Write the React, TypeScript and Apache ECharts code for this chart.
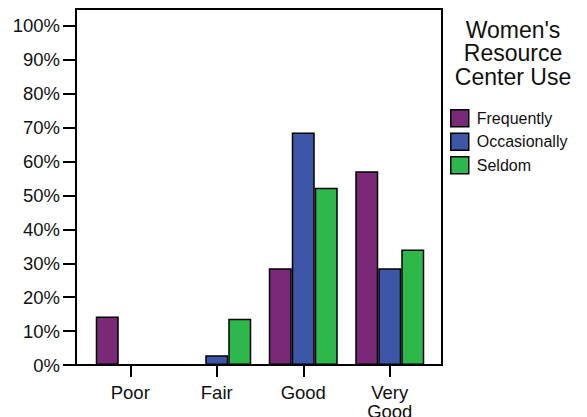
import React, { useEffect, useRef } from "react";
import * as echarts from "echarts";

const categories = ["Poor", "Fair", "Good", "Very\nGood"];
const seriesNames = ["Frequently", "Occasionally", "Seldom"];
const frequently = [14.29, 0, 28.57, 57.14];
const occasionally = [0, 2.86, 68.57, 28.57];
const seldom = [0, 13.64, 52.27, 34.09];
const yTicks = [0, 10, 20, 30, 40, 50, 60, 70, 80, 90, 100];
const colors = ["#7a2878", "#3d56a8", "#2eb84b"];
const legendTitle = "Women's\nResource\nCenter Use";

const FONT = "'Liberation Sans', Arial, Helvetica, sans-serif";

export default function App() {
  const ref = useRef<HTMLDivElement>(null);
  useEffect(() => {
    if (!ref.current) return;
    const chart = echarts.init(ref.current, undefined, { renderer: "svg" });
    const data = [frequently, occasionally, seldom];
    chart.setOption({
      animation: false,
      backgroundColor: "#ffffff",
      textStyle: { fontFamily: FONT },
      grid: {
        left: 87,
        right: 154,
        top: 9,
        bottom: 52,
        containLabel: false,
        outerBoundsMode: "none",
      },
      xAxis: {
        type: "category",
        data: categories,
        axisLine: { show: false },
        axisTick: {
          show: true,
          alignWithLabel: true,
          length: 12,
          lineStyle: { color: "#000", width: 2 },
        },
        axisLabel: {
          color: "#111",
          fontSize: 18.5,
          lineHeight: 19,
          margin: 18,
          fontFamily: FONT,
        },
      },
      yAxis: {
        type: "value",
        min: 0,
        max: 105,
        interval: 10,
        offset: 11,
        splitLine: { show: false },
        axisLine: { show: true, lineStyle: { color: "#000", width: 2 } },
        axisTick: {
          show: true,
          length: 13,
          customValues: yTicks,
          lineStyle: { color: "#000", width: 2 },
        },
        axisLabel: {
          color: "#111",
          fontSize: 18.5,
          margin: 16,
          customValues: yTicks,
          formatter: "{value}%",
          fontFamily: FONT,
        },
      },
      legend: {
        orient: "vertical",
        left: 445,
        top: 104,
        itemWidth: 18,
        itemHeight: 17,
        itemGap: 5,
        icon: "rect",
        data: seriesNames,
        itemStyle: { borderColor: "#000", borderWidth: 1.5 },
        textStyle: {
          fontSize: 16,
          lineHeight: 17,
          color: "#111",
          fontFamily: FONT,
          padding: [0, 0, 0, 3],
        },
      },
      graphic: [
        {
          type: "rect",
          z: 100,
          shape: { x: 76, y: 9, width: 366, height: 356 },
          style: { fill: "none", stroke: "#000", lineWidth: 2 },
        },
        {
          type: "text",
          x: 513,
          y: 18,
          style: {
            text: legendTitle,
            textAlign: "center",
            textVerticalAlign: "top",
            fontSize: 23,
            lineHeight: 23.5,
            fontFamily: FONT,
            fill: "#111",
          },
        },
      ],
      series: seriesNames.map((name, i) => ({
        name,
        type: "bar",
        data: data[i],
        barWidth: 23,
        barGap: "0%",
        itemStyle: { color: colors[i], borderColor: "#000", borderWidth: 1.5 },
      })),
    });
    return () => chart.dispose();
  }, []);
  return (
    <div
      ref={ref}
      style={{ position: "fixed", left: 0, top: 0, width: 587, height: 417 }}
    />
  );
}
